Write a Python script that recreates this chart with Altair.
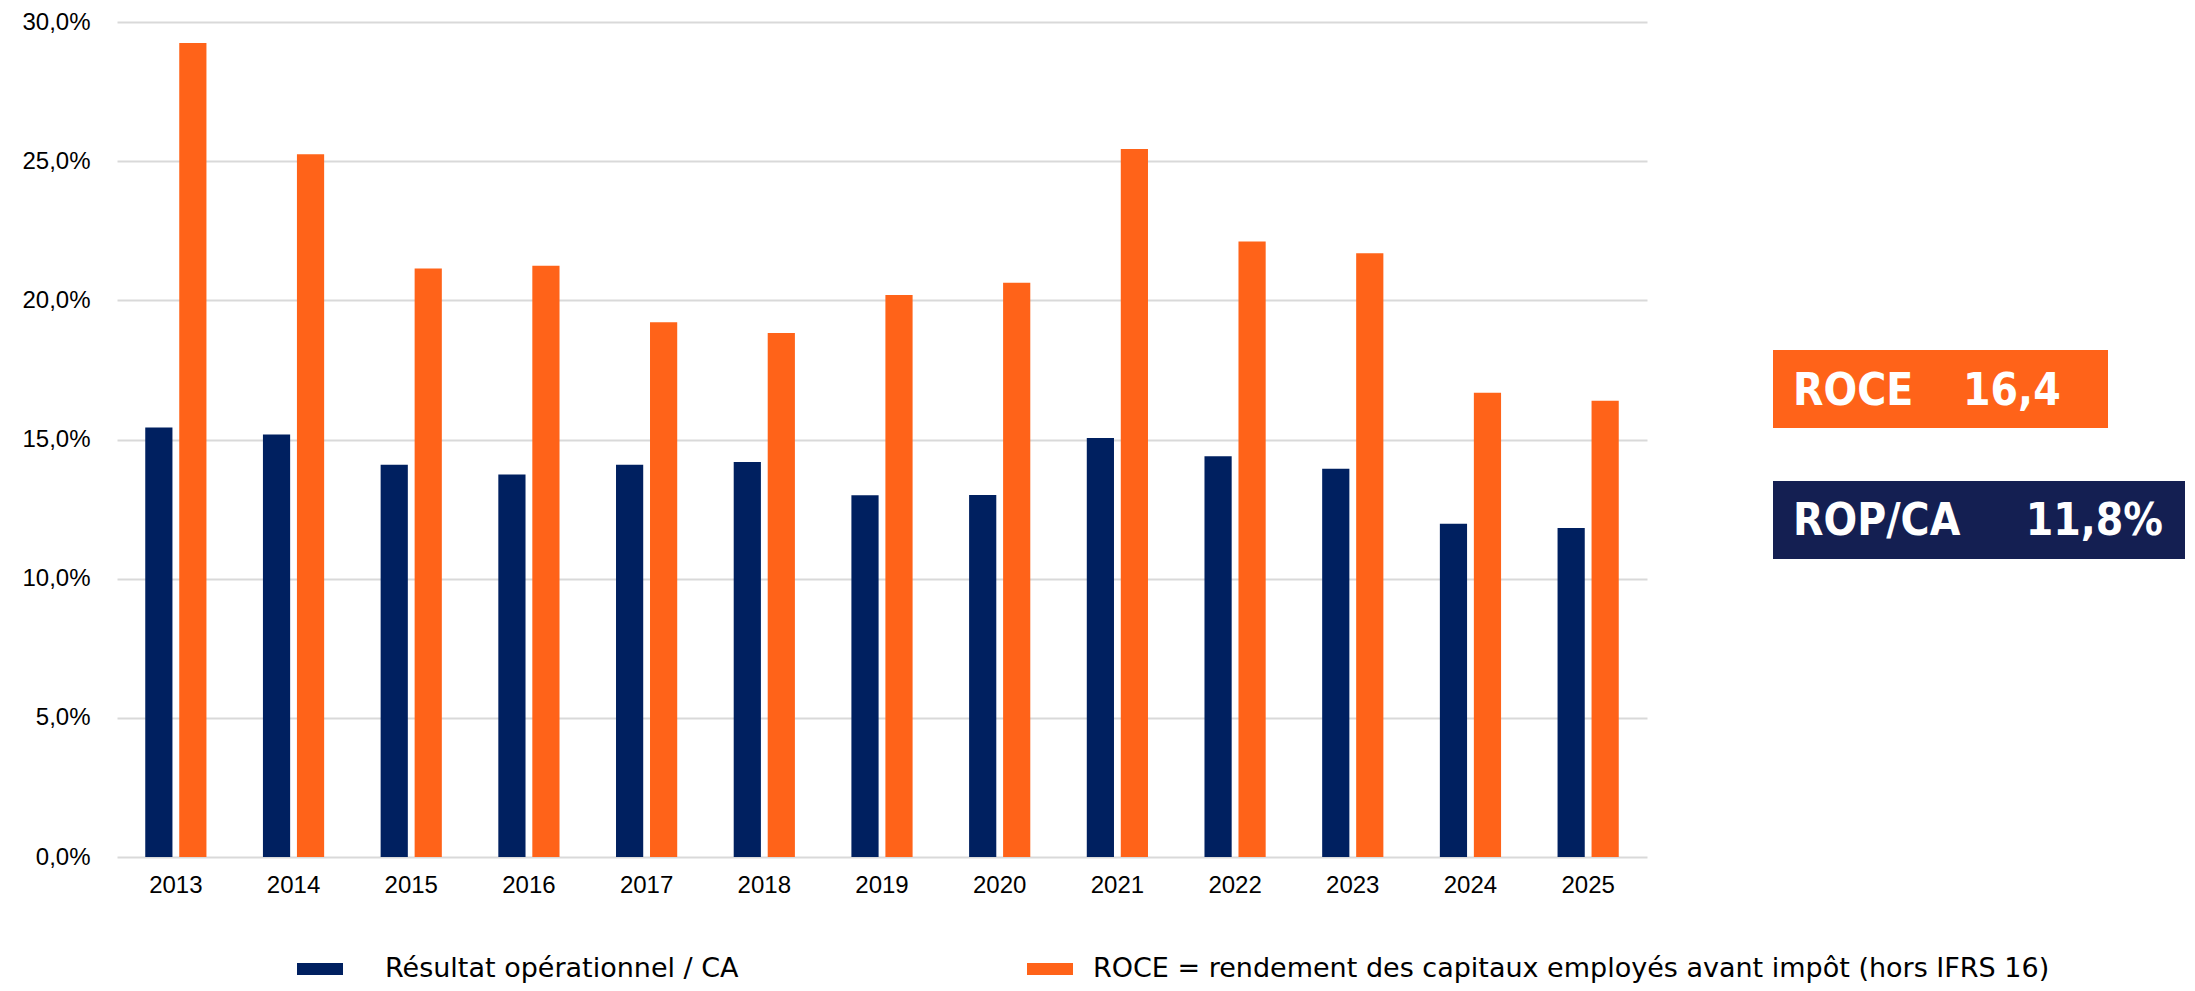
import altair as alt
import pandas as pd

years = ["2013", "2014", "2015", "2016", "2017", "2018", "2019",
         "2020", "2021", "2022", "2023", "2024", "2025"]
rop_ca = [15.43, 15.18, 14.09, 13.74, 14.09, 14.19, 13.0,
          13.01, 15.05, 14.40, 13.95, 11.97, 11.82]
roce = [29.25, 25.25, 21.14, 21.24, 19.21, 18.83, 20.19,
        20.63, 25.44, 22.11, 21.69, 16.68, 16.39]
series_names = ["Résultat opérationnel / CA",
                "ROCE = rendement des capitaux employés avant impôt (hors IFRS 16)"]
series_colors = ["#002060", "#FF6319"]
y_ticks = [0, 5, 10, 15, 20, 25, 30]

roce_box = ["ROCE", "16,4"]
rop_box = ["ROP/CA", "11,8%"]

rows = []
for i, yr in enumerate(years):
    rows.append({"year": yr, "series": series_names[0], "value": rop_ca[i]})
    rows.append({"year": yr, "series": series_names[1], "value": roce[i]})
df = pd.DataFrame(rows)

W, H = 1530, 835
LABEL_FONT = "Liberation Sans"
COND_FONT = "DejaVu Sans Condensed"
LEG_FONT = "DejaVu Sans"

bars = alt.Chart(df).mark_bar().encode(
    x=alt.X("year:N", sort=years, title=None,
            scale=alt.Scale(paddingInner=0.48, paddingOuter=0.24),
            axis=alt.Axis(labelAngle=0, labelFontSize=24, labelFont=LABEL_FONT,
                          labelColor="#000000", labelPadding=16, ticks=False,
                          domain=False, grid=False)),
    xOffset=alt.XOffset("series:N", sort=series_names,
                        scale=alt.Scale(paddingInner=0.2, paddingOuter=0)),
    y=alt.Y("value:Q", title=None,
            scale=alt.Scale(domain=[0, 30], nice=False),
            axis=alt.Axis(values=y_ticks, labelFontSize=24, labelFont=LABEL_FONT,
                          labelColor="#000000", labelPadding=27, ticks=False,
                          domain=False, gridColor="#d9d9d9", gridWidth=2,
                          labelExpr="replace(format(datum.value, '.1f'), '.', ',') + '%'")),
    color=alt.Color("series:N", sort=series_names,
                    scale=alt.Scale(domain=series_names, range=series_colors),
                    legend=None),
)

# manual legend (one swatch + label per series)
leg_layers = []
leg_pos = [(180, 226, 268), (910, 956, 976)]
for name, col, (sx1, sx2, tx) in zip(series_names, series_colors, leg_pos):
    ld = pd.DataFrame({"series": [name]})
    leg_layers.append(alt.Chart(ld).mark_rect(color=col).encode(
        x=alt.value(sx1), x2=alt.value(sx2), y=alt.value(941), y2=alt.value(953)))
    leg_layers.append(alt.Chart(ld).mark_text(
        align="left", baseline="alphabetic", font=LEG_FONT, fontSize=27,
        color="#000000").encode(text="series:N", x=alt.value(tx), y=alt.value(955)))

box_df1 = pd.DataFrame({"a": [roce_box[0]], "b": [roce_box[1]]})
box_df2 = pd.DataFrame({"a": [rop_box[0]], "b": [rop_box[1]]})

rect1 = alt.Chart(box_df1).mark_rect(color="#FF6319").encode(
    x=alt.value(1656), x2=alt.value(1991), y=alt.value(328), y2=alt.value(406))
rect2 = alt.Chart(box_df2).mark_rect(color="#141F52").encode(
    x=alt.value(1656), x2=alt.value(2068), y=alt.value(459), y2=alt.value(537))

txt_style = dict(font=COND_FONT, fontSize=44, fontWeight="bold", color="#ffffff",
                 baseline="alphabetic")
t1a = alt.Chart(box_df1).mark_text(align="left", **txt_style).encode(
    text="a:N", x=alt.value(1676), y=alt.value(383))
t1b = alt.Chart(box_df1).mark_text(align="left", **txt_style).encode(
    text="b:N", x=alt.value(1846), y=alt.value(383))
t2a = alt.Chart(box_df2).mark_text(align="left", **txt_style).encode(
    text="a:N", x=alt.value(1676), y=alt.value(513))
t2b = alt.Chart(box_df2).mark_text(align="right", **txt_style).encode(
    text="b:N", x=alt.value(2046), y=alt.value(513))

chart = alt.layer(bars, rect1, rect2, t1a, t1b, t2a, t2b, *leg_layers).properties(
    width=W, height=H,
    autosize=alt.AutoSizeParams(type="none"),
    padding={"left": 109, "top": 14, "right": 540, "bottom": 127},
    background="#ffffff",
).configure_view(stroke=None)

chart.save("out.html", embed_options={"renderer": "svg", "actions": False})
